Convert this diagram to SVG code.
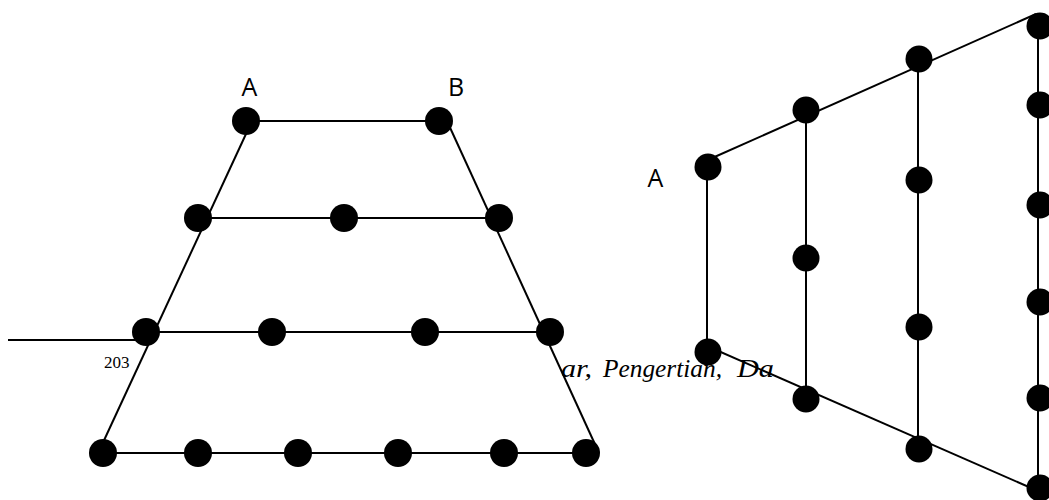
<svg xmlns="http://www.w3.org/2000/svg" width="1049" height="500" viewBox="0 0 1049 500">
<style>
.e{stroke:#000;stroke-width:2;fill:none}
.d{fill:#000}
.lab{font-family:"Open Sans","Liberation Sans",sans-serif;font-size:25px;fill:#000}
.pg{font-family:"Liberation Serif",serif;font-size:17px;fill:#000}
.it{font-family:"Liberation Serif",serif;font-style:italic;font-size:24.5px;fill:#000}
</style>
<rect width="1049" height="500" fill="#fff"/>
<g id="footer">
<text class="pg" x="104" y="368">203</text>
<text class="it" y="377"><tspan x="561" textLength="31" lengthAdjust="spacingAndGlyphs">ar,</tspan><tspan x="603" textLength="119" lengthAdjust="spacingAndGlyphs">Pengertian,</tspan><tspan x="737" textLength="37" lengthAdjust="spacingAndGlyphs">Da</tspan></text>
</g>
<g id="connectors">
<line class="e" x1="8" y1="340" x2="146" y2="340"/>
<line class="e" x1="246" y1="121" x2="439" y2="121"/>
<line class="e" x1="198" y1="218" x2="499" y2="218"/>
<line class="e" x1="146" y1="332" x2="550" y2="332"/>
<line class="e" x1="102" y1="453" x2="586" y2="453"/>
<line class="e" x1="252" y1="121" x2="100" y2="449"/>
<line class="e" x1="447" y1="121" x2="599" y2="453"/>
<line class="e" x1="707" y1="167" x2="707" y2="352"/>
<line class="e" x1="806" y1="110" x2="806" y2="399"/>
<line class="e" x1="918" y1="59" x2="918" y2="449"/>
<line class="e" x1="1038" y1="26" x2="1038" y2="488"/>
<line class="e" x1="710" y1="159" x2="1036" y2="14"/>
<line class="e" x1="707" y1="346" x2="1038" y2="491"/>
</g>
<g id="labels">
<text class="lab" x="249.5" y="96" text-anchor="middle">A</text>
<text class="lab" x="456" y="96" text-anchor="middle">B</text>
<text class="lab" x="655.5" y="187" text-anchor="middle">A</text>
</g>
<g id="left-nodes">
<g id="L1a"><circle class="d" cx="246" cy="121" r="14"/></g>
<g id="L1b"><circle class="d" cx="439" cy="121" r="14"/></g>
<g id="L2a"><circle class="d" cx="198" cy="218" r="14"/></g>
<g id="L2b"><circle class="d" cx="344" cy="218" r="14"/></g>
<g id="L2c"><circle class="d" cx="499" cy="218" r="14"/></g>
<g id="L3a"><circle class="d" cx="146" cy="332" r="14"/></g>
<g id="L3b"><circle class="d" cx="272" cy="332" r="14"/></g>
<g id="L3c"><circle class="d" cx="425" cy="332" r="14"/></g>
<g id="L3d"><circle class="d" cx="550" cy="332" r="14"/></g>
<g id="L4a"><circle class="d" cx="103" cy="453" r="14"/></g>
<g id="L4b"><circle class="d" cx="198" cy="453" r="14"/></g>
<g id="L4c"><circle class="d" cx="298" cy="453" r="14"/></g>
<g id="L4d"><circle class="d" cx="398" cy="453" r="14"/></g>
<g id="L4e"><circle class="d" cx="504" cy="453" r="14"/></g>
<g id="L4f"><circle class="d" cx="586" cy="453" r="14"/></g>
</g>
<g id="right-nodes">
<g id="R1a"><circle class="d" cx="708" cy="167" r="13.5"/></g>
<g id="R1b"><circle class="d" cx="708" cy="352" r="13.5"/></g>
<g id="R2a"><circle class="d" cx="806" cy="110" r="13.5"/></g>
<g id="R2b"><circle class="d" cx="806" cy="258" r="13.5"/></g>
<g id="R2c"><circle class="d" cx="806" cy="399" r="13.5"/></g>
<g id="R3a"><circle class="d" cx="919" cy="59" r="13.5"/></g>
<g id="R3b"><circle class="d" cx="919" cy="180" r="13.5"/></g>
<g id="R3c"><circle class="d" cx="919" cy="327" r="13.5"/></g>
<g id="R3d"><circle class="d" cx="919" cy="449" r="13.5"/></g>
<g id="R4a"><circle class="d" cx="1040" cy="26" r="13.5"/></g>
<g id="R4b"><circle class="d" cx="1040" cy="105" r="13.5"/></g>
<g id="R4c"><circle class="d" cx="1040" cy="205" r="13.5"/></g>
<g id="R4d"><circle class="d" cx="1040" cy="302" r="13.5"/></g>
<g id="R4e"><circle class="d" cx="1040" cy="398" r="13.5"/></g>
<g id="R4f"><circle class="d" cx="1040" cy="488" r="13.5"/></g>
</g>
</svg>
